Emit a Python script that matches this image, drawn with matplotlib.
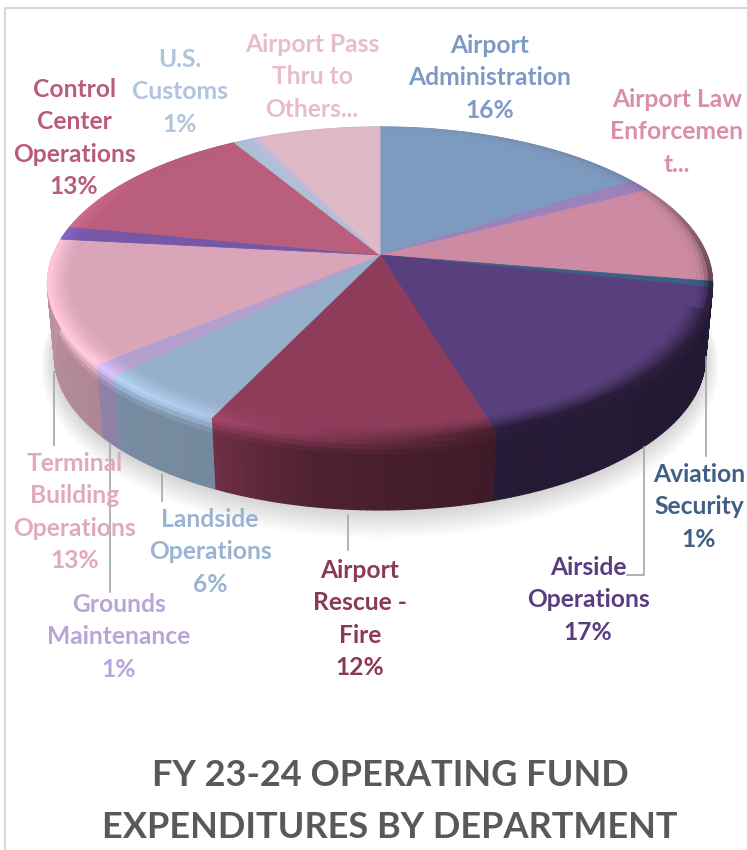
import matplotlib
matplotlib.use('Agg')
import matplotlib.pyplot as plt
from matplotlib.collections import PolyCollection
from matplotlib.colors import to_rgb
import numpy as np

plt.rcParams['font.family'] = ['Lato', 'DejaVu Sans']

# Slice shares in drawing order, clockwise from the back of the pie
names = ['Airport Administration', 'Unlabelled A', 'Airport Law Enforcement', 'Aviation Security',
         'Airside Operations', 'Airport Rescue - Fire', 'Landside Operations', 'Grounds Maintenance',
         'Terminal Building Operations', 'Unlabelled B', 'Control Center Operations', 'U.S. Customs',
         'Unlabelled C', 'Airport Pass Thru to Others']
shares = [16.0, 1.3, 10.4, 0.6, 17.0, 11.8, 5.5, 1.3, 12.8, 1.4, 13.3, 1.1, 0.3, 7.2]
slice_colors = ['#7d9abf', '#9c82bd', '#cc8ba3', '#3c5f86', '#5a3f7f', '#8f3c5b', '#96afcb',
                '#b3a0cf', '#d8a6b8', '#7557a8', '#b95e7c', '#aebfd7', '#c9b8dc', '#dfb9c6']

# Data labels
label_lines = [['Airport', 'Administration', '16%'],
               ['Airport Law', 'Enforcemen', 't...'],
               ['Aviation', 'Security', '1%'],
               ['Airside', 'Operations', '17%'],
               ['Airport', 'Rescue -', 'Fire', '12%'],
               ['Landside', 'Operations', '6%'],
               ['Grounds', 'Maintenance', '1%'],
               ['Terminal', 'Building', 'Operations', '13%'],
               ['Control', 'Center', 'Operations', '13%'],
               ['U.S.', 'Customs', '1%'],
               ['Airport Pass', 'Thru to', 'Others...']]
label_x = [490, 677, 699, 588, 360, 210, 119, 75, 74, 180, 312]
label_y = [45, 99, 474, 567, 570, 519, 604, 463, 89, 59, 44]
label_colors = ['#7d9ac4', '#d98fa9', '#3f5f87', '#5a3d80', '#8c3858', '#9ab3d3',
                '#b9a4d8', '#e0aabb', '#b85c7a', '#b0c4de', '#e9bccb']

# Pie geometry in pixels, with a simple perspective divide
CX, CY = 380, 255
PERSP = 0.182


def project(theta, r=1.0, depth=0.0):
    u = r * np.sin(theta)
    v = r * np.cos(theta)
    den = 1 + PERSP * v
    # depth 0 is the top face, depth 1 the bottom rim
    bx = 327 + (320 - 327) * depth
    ay = 151.3 + (148 - 151.3) * depth
    y0 = CY + (329 - CY) * depth
    return CX + bx * u / den, y0 - ay * v / den


# Brightness round the pie, by angle in degrees
wall_deg = [0, 100, 160, 190, 206, 226, 270, 300, 360]
wall_val = [0.6, 0.38, 0.42, 0.55, 0.78, 0.8, 0.88, 0.8, 0.6]
rim_deg = [0, 60, 100, 160, 190, 206, 226, 270, 290, 310, 360]
rim_val = [1.0, 0.9, 0.5, 0.45, 0.95, 1.15, 1.22, 1.18, 1.1, 1.0, 1.0]


def shade(col, f):
    return tuple(np.clip(np.array(col) * f, 0, 1))


fig = plt.figure(figsize=(7.47, 8.5), dpi=100)
ax = fig.add_axes([0, 0, 1, 1])
ax.set_xlim(0, 747)
ax.set_ylim(850, 0)
ax.axis('off')

# Chart frame
ax.plot([5, 5, 747], [850, 8, 8], color='#d9d9d9', linewidth=1.5, zorder=1)

# Soft shadow under the pie
ring = np.radians(np.arange(0, 361, 2))
for i in range(14, 0, -1):
    sx, sy = project(ring, depth=1.0)
    sx = CX + (sx - CX) * (1 + i * 0.003)
    sy = 329 + (sy - 329) * (1 + i * 0.009) + i * 0.4
    ax.fill(sx, sy, color='#000000', alpha=0.011, linewidth=0, zorder=2)

edges = np.concatenate([[0], np.cumsum(shares)]) / np.sum(shares) * 360

polys, cols = [], []
rows = np.linspace(0, 1, 15)
for k, col in enumerate(slice_colors):
    base = to_rgb(col)
    degs = np.linspace(edges[k], edges[k + 1], max(int(edges[k + 1] - edges[k]) + 2, 2))
    for a, b in zip(degs[:-1], degs[1:]):
        th = np.radians([a, b])
        mid = (a + b) / 2
        wall = np.interp(mid, wall_deg, wall_val)
        rim = np.interp(mid, rim_deg, rim_val)
        for t0, t1 in zip(rows[:-1], rows[1:]):
            x0, y0 = project(th, depth=t0)
            x1, y1 = project(th, depth=t1)
            f = rim + (wall - rim) * min((t0 + t1) / 2 / 0.22, 1)
            polys.append([(x0[0], y0[0]), (x0[1], y0[1]), (x1[1], y1[1]), (x1[0], y1[0])])
            cols.append(shade(base, f))
ax.add_collection(PolyCollection(polys, facecolors=cols, edgecolors=cols, linewidths=0.9, zorder=3))

# Top face, flat part and bevel towards the rim
INNER = 0.93
polys, cols = [], []
for k, col in enumerate(slice_colors):
    base = to_rgb(col)
    degs = np.linspace(edges[k], edges[k + 1], max(int(edges[k + 1] - edges[k]) + 2, 2))
    px, py = project(np.radians(degs), r=INNER)
    polys.append([(CX, CY)] + list(zip(px, py)))
    cols.append(base)
    for a, b in zip(degs[:-1], degs[1:]):
        th = np.radians([a, b])
        mid = (a + b) / 2
        rim = np.interp(mid, rim_deg, rim_val)
        # bevel is tight on the back right, wider along the front
        power = 4 if mid < 110 else 1.5
        rr = np.linspace(INNER, 1, 7)
        for n, (r0, r1) in enumerate(zip(rr[:-1], rr[1:])):
            x0, y0 = project(th, r=r0)
            x1, y1 = project(th, r=r1)
            f = 1 + (rim - 1) * ((n + 1) / 6) ** power
            polys.append([(x0[0], y0[0]), (x0[1], y0[1]), (x1[1], y1[1]), (x1[0], y1[0])])
            cols.append(shade(base, f))
ax.add_collection(PolyCollection(polys, facecolors=cols, edgecolors=cols, linewidths=0.5, zorder=4))

# Leader lines
leader_xs = [[54, 54], [110, 110], [162, 162], [348, 348], [644, 644, 627], [706, 706]]
leader_ys = [[372, 445], [444, 592], [474, 501], [515, 550], [447, 575, 575], [357, 456]]
for lx, ly in zip(leader_xs, leader_ys):
    ax.plot(lx, ly, color='#a6a6a6', linewidth=1.2, zorder=5)

# Labels, one text per line
LINE_STEP = 32.3
for lines, x, y, c in zip(label_lines, label_x, label_y, label_colors):
    for i, s in enumerate(lines):
        ax.text(x, y + 8 + i * LINE_STEP, s, ha='center', va='baseline', color=c,
                fontsize=17.7, fontweight='bold', zorder=6)

title_lines = ['FY 23-24 OPERATING FUND', 'EXPENDITURES BY DEPARTMENT']
for i, s in enumerate(title_lines):
    ax.text(390, 786 + i * 52, s, ha='center', va='baseline', color='#595959',
            fontsize=26, fontweight='bold', zorder=6)

plt.savefig('out.png', dpi=100, facecolor='white')
plt.close()
